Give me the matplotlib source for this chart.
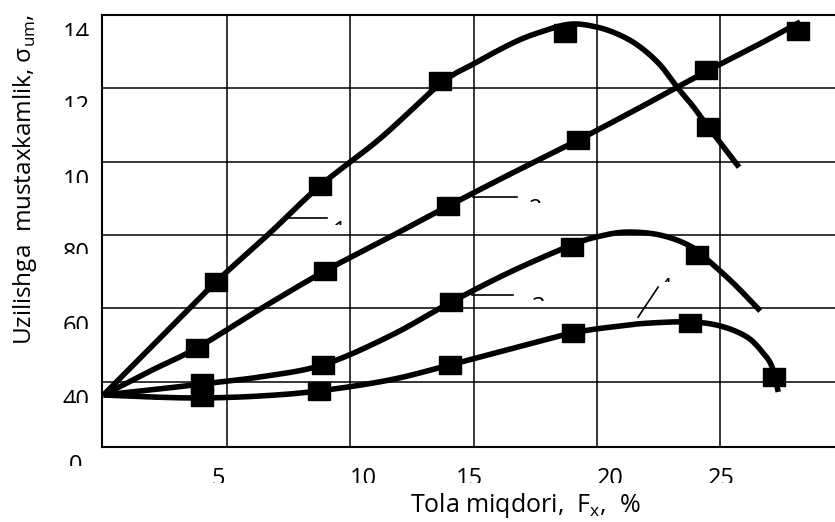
import numpy as np
import matplotlib
matplotlib.use("Agg")
import matplotlib.pyplot as plt
from matplotlib.path import Path
from matplotlib.transforms import (Bbox, TransformedBbox, ScaledTranslation,
                                   blended_transform_factory)

# ---------------- data ----------------
# curve 1
c1_line_x = [0, 2.29, 4.56, 6.75, 8.77, 11.21, 13.65, 14.98, 16.60, 17.69, 18.91,
             20.0, 20.94, 21.75, 22.56, 23.25, 23.86, 24.51, 25.76]
c1_line_y = [31.8, 51.9, 67.2, 80.6, 93.4, 106.3, 121.2, 126.6, 132.4, 135.3, 137.5,
             136.7, 134.5, 131.3, 126.4, 120.3, 115.4, 109.5, 98.5]
c1_mark_x = [4.56, 8.77, 13.65, 18.71, 24.51]
c1_mark_y = [67.2, 93.4, 121.9, 135.1, 109.5]
# curve 2
c2_line_x = [0, 1.89, 3.79, 6.35, 8.98, 11.62, 13.97, 16.48, 19.24, 21.75, 24.43,
             26.62, 28.24]
c2_line_y = [31.8, 42.9, 49.2, 59.8, 70.2, 79.5, 87.9, 96.6, 105.9, 114.8, 124.6,
             132.2, 138.1]
c2_mark_x = [3.79, 8.98, 13.97, 19.24, 24.43, 28.15]
c2_mark_y = [49.2, 70.2, 87.9, 105.9, 125.0, 135.6]
# curve 3
c3_line_x = [0, 1.89, 4.0, 6.35, 8.90, 11.62, 14.09, 16.48, 18.99, 20.13, 21.22,
             22.56, 23.78, 24.59, 25.6, 26.62]
c3_line_y = [31.8, 34.9, 38.6, 41.3, 44.6, 52.5, 61.7, 69.9, 77.3, 79.7, 80.8,
             80.0, 77.0, 72.6, 66.4, 59.3]
c3_mark_x = [4.0, 8.90, 14.09, 18.99, 24.06]
c3_mark_y = [39.2, 44.6, 61.7, 76.7, 74.5]
# curve 4
c4_line_x = [0, 1.89, 4.0, 6.35, 8.73, 11.62, 14.05, 16.48, 19.03, 20.94, 22.16,
             23.78, 25.0, 26.08, 26.74, 27.1, 27.35]
c4_line_y = [31.8, 30.6, 30.0, 31.2, 34.3, 40.5, 44.6, 48.9, 53.3, 55.2, 56.0,
             56.3, 55.2, 52.2, 47.8, 44.0, 33.7]
c4_mark_x = [4.0, 8.73, 14.05, 19.03, 23.78, 27.18]
c4_mark_y = [30.6, 34.3, 44.6, 53.3, 56.0, 41.3]

curve_labels = ["1", "2", "3", "4"]
leader_x = [[7.52, 9.06], [14.98, 16.77], [14.94, 16.60], [21.67, 22.48]]
leader_y = [[84.6, 84.6], [90.4, 90.4], [63.6, 63.6], [57.6, 65.8]]
label_x = [9.59, 17.53, 17.65, 22.76]
label_y = [83.96, 90.1, 63.5, 68.6]

x_tick_values = [5, 10, 15, 20, 25]
x_tick_labels = ["5", "10", "15", "20", "25"]
y_tick_values = [0, 40, 60, 80, 100, 120, 140]
y_tick_labels = ["0", "40", "60", "80", "10", "12", "14"]

x_title = r"Tola miqdori,  F$_{\mathregular{x}}$,  %"
y_title = r"Uzilishga  mustaxkamlik, σ$_{\mathregular{um}}$,"

# ---------------- style ----------------
W, H = 835, 522
plt.rcParams["font.family"] = ["Open Sans", "DejaVu Sans"]
plt.rcParams["mathtext.fontset"] = "custom"
plt.rcParams["mathtext.rm"] = "Open Sans"
TICK_FS = 17

fig = plt.figure(figsize=(W / 100, H / 100), dpi=100)
ax = fig.add_axes([102 / W, 1 - 446.7 / H, 1 - 102 / W, (446.7 - 15) / H])

# broken y axis: 0..40 compressed, 40..140 linear
y_break = [0, 40, 140]
y_span = [0, 65, 431.7]
def fwd(v):
    return np.interp(v, y_break, y_span)
def inv(p):
    return np.interp(p, y_span, y_break)
ax.set_yscale("function", functions=(fwd, inv))
ax.set_xlim(-0.06, 29.65)
ax.set_ylim(0, 140)

ax.set_xticks(x_tick_values)
ax.set_yticks([v for v in y_tick_values if 0 < v < 140])
ax.grid(True, color="black", lw=1.1)
ax.tick_params(length=0, labelleft=False, labelbottom=False)
for s in ["top", "left", "bottom"]:
    ax.spines[s].set_linewidth(1.5)
ax.spines["right"].set_visible(False)

rect = Path([(-1, -0.78), (1, -0.78), (1, 0.78), (-1, 0.78), (-1, -0.78)],
            [Path.MOVETO, Path.LINETO, Path.LINETO, Path.LINETO, Path.CLOSEPOLY])


def smooth_display(x, y, n=24):
    """Catmull-Rom smoothing of the read points, done in display space."""
    pts = ax.transData.transform(np.column_stack([x, y]))
    P = np.vstack([2 * pts[0] - pts[1], pts, 2 * pts[-1] - pts[-2]])
    t = np.linspace(0, 1, n, endpoint=False)[:, None]
    segs = []
    for i in range(1, len(P) - 2):
        p0, p1, p2, p3 = P[i - 1], P[i], P[i + 1], P[i + 2]
        segs.append(0.5 * (2 * p1 + (-p0 + p2) * t
                           + (2 * p0 - 5 * p1 + 4 * p2 - p3) * t ** 2
                           + (-p0 + 3 * p1 - 3 * p2 + p3) * t ** 3))
    segs.append(pts[-1:])
    d = ax.transData.inverted().transform(np.vstack(segs))
    return d[:, 0], d[:, 1]


for lx, ly, mx, my in [(c1_line_x, c1_line_y, c1_mark_x, c1_mark_y),
                       (c2_line_x, c2_line_y, c2_mark_x, c2_mark_y),
                       (c3_line_x, c3_line_y, c3_mark_x, c3_mark_y),
                       (c4_line_x, c4_line_y, c4_mark_x, c4_mark_y)]:
    sx, sy = smooth_display(lx, ly)
    ax.plot(sx, sy, color="black", lw=4.0, solid_joinstyle="round",
            solid_capstyle="butt", zorder=3, clip_on=False)
    ax.plot(mx, my, linestyle="none", marker=rect, ms=15.8, color="black",
            zorder=4, clip_on=False)


def pix_box(x0, y0, x1, y1):
    # pixel box, y measured from the top of the figure
    return TransformedBbox(Bbox.from_extents(x0 / W, 1 - y1 / H, x1 / W, 1 - y0 / H),
                           fig.transFigure)


def data_to_pix_y(v):
    return H - ax.transData.transform((0, v))[1]


def data_to_pix_x(v):
    return ax.transData.transform((v, 40))[0]


# leader lines + partially hidden curve numbers
for lab, lx, ly, tx, ty in zip(curve_labels, leader_x, leader_y, label_x, label_y):
    ax.plot(lx, ly, color="black", lw=1.2, zorder=3)
    t = ax.text(tx, ty, lab, ha="center", va="top", fontsize=TICK_FS, zorder=5)
    top = data_to_pix_y(ty)
    cx = data_to_pix_x(tx)
    t.set_clip_box(pix_box(cx - 15, top - 2, cx + 15, top + 5))
    t.set_clip_on(True)

# y tick labels (lower part hidden as in the source)
ytick_vis = [10, 12, 12, 10, 12, 10, 12]
ytr = blended_transform_factory(fig.transFigure, ax.transData) + \
    ScaledTranslation(0, -7 / 100, fig.dpi_scale_trans)
for v, lab, vis in zip(y_tick_values, y_tick_labels, ytick_vis):
    t = fig.text(76 / W, v, lab, transform=ytr, ha="center", va="top",
                 fontsize=TICK_FS)
    top = data_to_pix_y(v) + 9
    t.set_clip_box(pix_box(40, top - 3, 110, top + vis))
    t.set_clip_on(True)

# x tick labels
xtick_off = [-8.7, 13, -4, 13, 1]
for v, lab, off in zip(x_tick_values, x_tick_labels, xtick_off):
    tr = blended_transform_factory(ax.transData, fig.transFigure) + \
        ScaledTranslation(off / 100, 0, fig.dpi_scale_trans)
    t = fig.text(v, 1 - 467 / H, lab, transform=tr, ha="center", va="top",
                 fontsize=TICK_FS)
    cx = data_to_pix_x(v) + off
    t.set_clip_box(pix_box(cx - 30, 466, cx + 30, 483))
    t.set_clip_on(True)

fig.text(525 / W, 2 / H, x_title, ha="center", va="bottom", fontsize=18)
fig.text(25 / W, 1 - 179 / H, y_title, ha="center", va="center", rotation=90,
         fontsize=17.5)

fig.savefig("out.png", dpi=100)
